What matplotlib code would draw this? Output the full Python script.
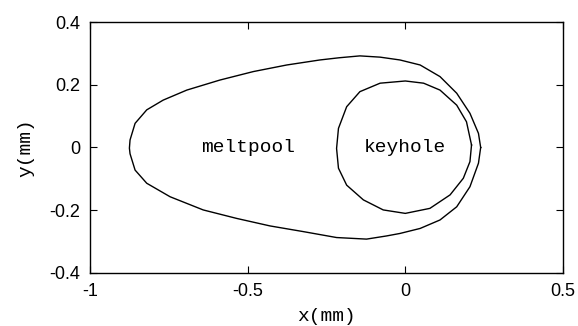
import matplotlib
matplotlib.use("Agg")
import matplotlib.pyplot as plt

# meltpool contour (x, y in mm), traced counter-clockwise starting at right tip
melt_x = [0.239, 0.232, 0.205, 0.163, 0.110, 0.047, -0.017, -0.080, -0.144, -0.210,
          -0.271, -0.376, -0.482, -0.588, -0.693, -0.768, -0.820, -0.857, -0.873, -0.875,
          -0.873, -0.857, -0.820, -0.746, -0.641, -0.535, -0.429, -0.324, -0.218, -0.123,
          -0.060, -0.017, 0.047, 0.110, 0.163, 0.205, 0.232, 0.239]
melt_y = [0.000, 0.045, 0.109, 0.173, 0.226, 0.263, 0.279, 0.288, 0.292, 0.286,
          0.279, 0.263, 0.242, 0.215, 0.183, 0.151, 0.120, 0.077, 0.024, -0.002,
          -0.020, -0.072, -0.114, -0.157, -0.199, -0.226, -0.250, -0.268, -0.287, -0.292,
          -0.282, -0.274, -0.258, -0.231, -0.189, -0.125, -0.050, 0.000]

# keyhole contour
key_x = [0.210, 0.194, 0.163, 0.110, 0.058, 0.000, -0.080, -0.144, -0.186, -0.212,
         -0.218, -0.212, -0.186, -0.133, -0.070, 0.000, 0.078, 0.142, 0.184, 0.205, 0.210]
key_y = [0.008, 0.082, 0.135, 0.183, 0.205, 0.212, 0.205, 0.178, 0.130, 0.061,
         -0.003, -0.066, -0.120, -0.167, -0.199, -0.210, -0.194, -0.151, -0.098, -0.045, 0.008]

xticks = [-1, -0.5, 0, 0.5]
xtick_labels = ["-1", "-0.5", "0", "0.5"]
yticks = [-0.4, -0.2, 0, 0.2, 0.4]
ytick_labels = ["-0.4", "-0.2", "0", "0.2", "0.4"]

fig = plt.figure(figsize=(5.78, 3.26), dpi=100)
ax = fig.add_axes([0.1557, 0.1626, 0.8183, 0.7699])

ax.plot(melt_x, melt_y, color="black", lw=1.0)
ax.plot(key_x, key_y, color="black", lw=1.0)

mono = "Liberation Mono"
ax.text(-0.5, 0, "meltpool", family=mono, fontsize=14, ha="center", va="center")
ax.text(0.0, 0, "keyhole", family=mono, fontsize=14, ha="center", va="center")

ax.set_xlim(-1, 0.5)
ax.set_ylim(-0.4, 0.4)
ax.set_xticks(xticks)
ax.set_xticklabels(xtick_labels)
ax.set_yticks(yticks)
ax.set_yticklabels(ytick_labels)
ax.tick_params(direction="in", length=5, width=0.8, top=True, right=True,
               labelsize=13, pad=7)
for lab in ax.get_xticklabels() + ax.get_yticklabels():
    lab.set_family("Liberation Sans")
for s in ax.spines.values():
    s.set_linewidth(1.0)

ax.set_xlabel("x(mm)", family=mono, fontsize=14, labelpad=6)
ax.set_ylabel("y(mm)", family=mono, fontsize=14, labelpad=11)

fig.savefig("out.png", dpi=100)
